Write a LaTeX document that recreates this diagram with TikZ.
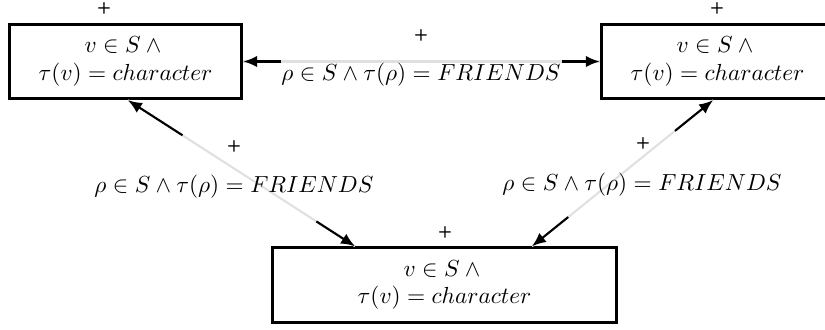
\documentclass[tikz,border=0pt]{standalone}
\usetikzlibrary{arrows.meta,calc}

\tikzset{
    statebox/.style={
        draw,
        line width=1.3pt,
        minimum height=32pt,
        align=center,
        inner sep=2pt,
    },
    fadeline/.style={draw=black!12, line width=0.9pt},
    tipline/.style={draw, line width=0.9pt, -{Latex[length=6pt,width=5pt]}},
    plus/.style={font=\scriptsize\sffamily\bfseries, inner sep=0pt},
}

\begin{document}
\begin{tikzpicture}[x=0.43pt, y=-0.43pt]
    \useasboundingbox (0,0) rectangle (825,329);

    % vertices
    \node[statebox, minimum width=100pt] (tl) at (125.5,61.5)
        {$v \in S \wedge{}$\\$\tau(v) = character$};
    \node[statebox, minimum width=100pt] (tr) at (717.5,61.5)
        {$v \in S \wedge{}$\\$\tau(v) = character$};
    \node[statebox, minimum width=148pt] (bot) at (444.5,285)
        {$v \in S \wedge{}$\\$\tau(v) = character$};

    % marks above the vertices
    \node[plus] (ptl) at (104,8) {+};
    \node[plus] (ptr) at (717,8) {+};
    \node[plus] (pbot) at (445,232) {+};

    % end points on the bottom box
    \coordinate (bl) at ($(bot.north)+(-89.5,0)$);
    \coordinate (br) at ($(bot.north)+(87.5,0)$);
    \coordinate (tls) at ($(tl.south)+(2.5,0)$);
    \coordinate (trs) at ($(tr.south)+(-4.5,0)$);

    % top edge
    \path[fadeline] (tl.east) -- (tr.west)
        coordinate[pos=0.106] (t1) coordinate[pos=0.894] (t2);
    \draw[tipline] (t1) -- (tl.east);
    \draw[tipline] (t2) -- (tr.west);
    \node (lt) at (421,75) {$\rho \in S \wedge \tau(\rho) = FRIENDS$};
    \node[plus] (pt) at (421,35) {+};

    % left edge
    \path[fadeline] (tls) -- (bl)
        coordinate[pos=0.24] (l1) coordinate[pos=0.83] (l2);
    \draw[tipline] (l1) -- (tls);
    \draw[tipline] (l2) -- (bl);
    \node (ll) at (234,187) {$\rho \in S \wedge \tau(\rho) = FRIENDS$};
    \node[plus] (pl) at (234,146) {+};

    % right edge
    \path[fadeline] (trs) -- (br)
        coordinate[pos=0.21] (r1) coordinate[pos=0.80] (r2);
    \draw[tipline] (r1) -- (trs);
    \draw[tipline] (r2) -- (br);
    \node (lr) at (642,185) {$\rho \in S \wedge \tau(\rho) = FRIENDS$};
    \node[plus] (pr) at (643,143) {+};
\end{tikzpicture}
\end{document}
